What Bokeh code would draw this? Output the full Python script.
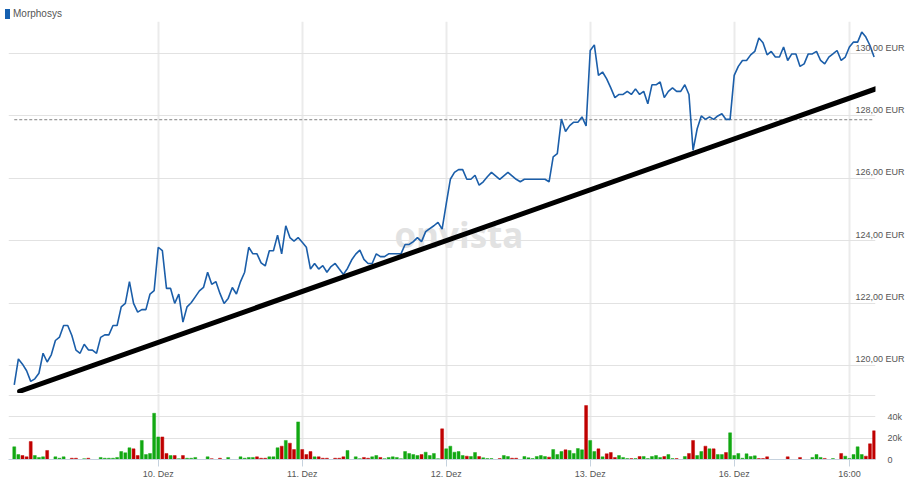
from bokeh.plotting import figure
from bokeh.models import (Range1d, LinearAxis, FixedTicker, Grid, Label, ColumnDataSource,
                          Div, Arrow)
from bokeh.layouts import column
from bokeh.embed import file_html
from bokeh.resources import INLINE

# ---------------- data ----------------
title_text = "Morphosys"

# price per 15-minute slot (EUR), slot index 0..209
price = [
    119.38, 120.21, 120.04, 119.83, 119.49, 119.57, 119.75, 120.39, 120.11, 120.34,
    120.80, 120.91, 121.28, 121.28, 120.96, 120.49, 120.39, 120.68, 120.50, 120.49,
    120.39, 120.90, 120.98, 120.98, 121.28, 121.28, 121.88, 121.99, 122.69, 121.99,
    121.71, 121.79, 121.79, 122.29, 122.40, 123.79, 123.68, 122.47, 122.47, 121.99,
    122.29, 121.39, 121.88, 122.01, 122.20, 122.39, 122.50, 122.99, 122.60, 122.69,
    122.31, 121.99, 122.15, 122.50, 122.29, 122.69, 122.99, 123.79, 123.58, 123.58,
    123.29, 123.19, 123.68, 123.68, 124.18, 123.58, 124.48, 124.10, 123.99, 124.10,
    123.95, 123.79, 123.09, 123.27, 123.09, 123.20, 122.99, 123.17, 123.27, 123.09,
    122.92, 123.11, 123.38, 123.57, 123.70, 123.40, 123.27, 123.27, 123.58, 123.49,
    123.49, 123.58, 123.58, 123.58, 123.58, 123.88, 123.88, 123.97, 124.10, 123.97,
    124.29, 124.39, 124.48, 124.59, 124.37, 125.18, 125.97, 126.19, 126.28, 126.28,
    125.97, 125.97, 126.10, 125.78, 125.89, 126.05, 126.19, 126.08, 125.97, 126.08,
    126.19, 126.08, 125.97, 125.89, 125.97, 125.97, 125.97, 125.97, 125.97, 125.97,
    125.89, 126.69, 126.79, 127.90, 127.50, 127.69, 127.80, 127.80, 127.97, 127.68,
    130.10, 130.28, 129.30, 129.41, 129.19, 128.90, 128.59, 128.69, 128.69, 128.79,
    128.69, 128.87, 128.69, 128.79, 128.39, 129.00, 129.00, 129.09, 128.59, 128.79,
    128.90, 128.79, 128.79, 129.00, 128.69, 126.90, 127.59, 128.00, 127.89, 127.97,
    127.89, 128.00, 128.07, 127.89, 127.89, 129.30, 129.59, 129.78, 129.78, 129.96,
    130.07, 130.50, 130.35, 129.96, 130.07, 129.89, 129.89, 130.21, 129.78, 129.99,
    129.99, 129.59, 129.67, 129.99, 129.99, 130.07, 129.78, 129.67, 129.89, 129.99,
    130.10, 129.78, 129.89, 130.21, 130.37, 130.37, 130.69, 130.53, 130.26, 129.89,
]

# traded volume per slot, in thousands of shares
volume_k = [
    11.8, 4.6, 3.7, 2.5, 16.7, 3.7, 1.9, 2.5, 8.4, 0,
    2.5, 1.2, 2.5, 0, 1.2, 1.2, 0, 0.8, 1.2, 0,
    0, 1.9, 1.2, 1.2, 1.2, 1.9, 7.4, 6.2, 10.9, 9.9,
    3.7, 17.7, 4.6, 5.6, 43.0, 21.0, 21.0, 5.6, 3.7, 3.7,
    0.8, 3.7, 1.2, 1.2, 1.9, 0, 0, 2.5, 0.8, 0,
    1.2, 0, 1.9, 0, 0, 2.5, 1.2, 1.9, 1.9, 2.5,
    1.2, 1.2, 2.5, 2.5, 10.9, 12.4, 17.7, 15.2, 9.3, 35.0,
    9.3, 4.6, 7.4, 2.5, 2.5, 1.2, 1.2, 0, 1.2, 1.2,
    2.5, 8.4, 0, 2.5, 0.8, 1.9, 1.2, 2.5, 3.7, 1.9,
    0.8, 1.9, 2.5, 1.9, 0.8, 7.4, 5.6, 4.6, 3.7, 4.6,
    6.8, 3.7, 5.6, 0.8, 28.5, 9.9, 12.4, 6.8, 7.4, 3.7,
    3.1, 2.8, 6.5, 2.8, 1.6, 0.9, 0.9, 0, 0.9, 3.7,
    2.8, 1.2, 1.2, 0, 2.8, 1.6, 0.9, 2.8, 3.7, 2.8,
    2.2, 9.3, 4.6, 7.4, 9.0, 8.4, 5.6, 10.2, 9.0, 50.2,
    17.7, 7.4, 9.9, 2.5, 5.3, 6.5, 1.9, 3.7, 1.9, 0.9,
    0.9, 0.9, 2.8, 2.8, 0.9, 2.8, 3.7, 1.9, 2.8, 4.6,
    0.9, 0.9, 0, 2.8, 5.6, 17.7, 3.7, 7.4, 12.4, 9.9,
    9.9, 4.6, 4.6, 6.5, 24.8, 3.7, 5.6, 1.2, 5.3, 2.8,
    3.4, 0.9, 0.9, 2.5, 0, 0, 0, 0, 2.5, 0,
    0, 1.9, 0, 0, 1.9, 4.6, 1.9, 1.0, 0, 0.9,
    0, 5.6, 3.1, 1.0, 4.6, 11.8, 4.6, 3.1, 14.6, 26.7,
]

# direction of each volume bar: G = up slot, R = down slot
vol_dir = list(
    "GGRRRGGGRG" "GGGGRRGGRG" "GGGGGGGGGR" "RGGGGGRRGR" "GRGGGGGGRG"
    "RGGGGGGGGR" "RRGGGRGRRG" "RRRGRRRGRR" "RGGGGRRGGR" "GGGGGGGGGR"
    "GGGGRGGGGG" "RGGRGGGGRG" "GRRGGGGGGG" "RGGGRGGGGR" "GGRGRRRGGG"
    "RGRGGGGGRG" "GRGGRRGGRG" "RGGRGGGGGG" "GRRRGGGGRG" "GRGGGGGRGG"
    "GRGGGGGRRR"
)

day_ticks = [35, 70, 105, 140, 175, 203]
day_labels = ["10. Dez", "11. Dez", "12. Dez", "13. Dez", "16. Dez", "16:00"]

price_ticks = [120, 122, 124, 126, 128, 130]
price_labels = ["120,00 EUR", "122,00 EUR", "124,00 EUR", "126,00 EUR", "128,00 EUR", "130,00 EUR"]

vol_ticks = [0, 20000, 40000]
vol_labels = ["0", "20k", "40k"]
vol_grid_ticks = [20000, 40000, 60000]

ref_price = 127.88            # dashed reference level
trend_x = [1.3, 213.7]        # hand-drawn trend line (slot index)
trend_y = [119.17, 129.07]    # (EUR)

price_range = (119.10, 131.03)
vol_range = (0, 61400)

# ---------------- layout constants ----------------
W = 908
SLOT = 4.114          # px per slot
LB = 8                # left border
FRAME_W = 867
RB = W - LB - FRAME_W
x_start = -1.40
x_end = x_start + FRAME_W / SLOT
LBL_SHIFT = 6 / 31.2

FONT = "Liberation Sans"
TXT = "#555555"
UP = "#12a812"
DOWN = "#c00000"

idx = list(range(len(price)))
vol = [v * 1000 for v in volume_k]
vol_colors = [UP if d == "G" else DOWN for d in vol_dir]

# ---------------- header ----------------
header = Div(
    text=('<div style="position:relative;top:2px;display:flex;align-items:center;height:12px;'
          'font-family:\'Liberation Sans\',Arial,sans-serif;font-size:10px;color:#555;">'
          '<span style="display:inline-block;width:5px;height:10px;background:#1560b0;'
          'margin-right:3px;"></span>' + title_text + '</div>'),
    width=W, height=11,
)

# ---------------- price panel ----------------
p = figure(width=W, height=372, title=None,
           x_range=Range1d(x_start, x_end), y_range=Range1d(*price_range),
           x_axis_location=None, y_axis_location=None,
           toolbar_location=None, output_backend="svg",
           min_border_left=LB, min_border_right=RB,
           min_border_top=0, min_border_bottom=0, outline_line_color=None)
p.grid.visible = False
p.add_layout(Grid(dimension=0, ticker=FixedTicker(ticks=day_ticks),
                  grid_line_color="#ebebeb", grid_line_width=2))
p.add_layout(Grid(dimension=1, ticker=FixedTicker(ticks=price_ticks),
                  grid_line_color="#e2e2e2", grid_line_width=1))

p.extra_y_ranges = {"lbl": Range1d(price_range[0] - LBL_SHIFT, price_range[1] - LBL_SHIFT)}
pax = LinearAxis(y_range_name="lbl", ticker=FixedTicker(ticks=price_ticks),
                 major_label_overrides=dict(zip(price_ticks, price_labels)),
                 axis_line_color=None, major_tick_line_color=None, minor_tick_line_color=None,
                 major_tick_out=0, major_tick_in=0, major_label_standoff=-20,
                 major_label_text_font=FONT, major_label_text_font_size="9px",
                 major_label_text_color=TXT)
p.add_layout(pax, "right")

p.add_layout(Label(x=92.4, y=123.43, text="onvista", text_font="Open Sans",
                   text_font_style="bold", text_font_size="35px",
                   text_color="#e2e2e2", level="underlay"))

p.segment(x0=[idx[0]], y0=[ref_price], x1=[idx[-1]], y1=[ref_price],
          line_color="#808080", line_width=1, line_dash="3 2")
p.line(idx, price, line_color="#1b5ea9", line_width=1.6)
p.add_layout(Arrow(x_start=trend_x[0], y_start=trend_y[0], x_end=trend_x[1], y_end=trend_y[1],
                   start=None, end=None, line_color="black", line_width=5, line_cap="round"))

# ---------------- volume panel ----------------
v = figure(width=W, height=89, title=None,
           x_range=Range1d(x_start, x_end), y_range=Range1d(*vol_range),
           x_axis_location="below", y_axis_location=None,
           toolbar_location=None, output_backend="svg",
           min_border_left=LB, min_border_right=RB,
           min_border_top=0, min_border_bottom=23, outline_line_color=None)
v.grid.visible = False
v.add_layout(Grid(dimension=0, ticker=FixedTicker(ticks=day_ticks),
                  grid_line_color="#ebebeb", grid_line_width=2))
v.add_layout(Grid(dimension=1, ticker=FixedTicker(ticks=vol_grid_ticks),
                  grid_line_color="#e2e2e2", grid_line_width=1))

xa = v.xaxis[0]
xa.ticker = FixedTicker(ticks=day_ticks)
xa.major_label_overrides = dict(zip(day_ticks, day_labels))
xa.axis_line_color = "#c6d2de"
xa.major_tick_line_color = "#c6d2de"
xa.major_tick_out = 7
xa.major_tick_in = 0
xa.minor_tick_line_color = None
xa.major_label_standoff = 2
xa.major_label_text_font = FONT
xa.major_label_text_font_size = "9px"
xa.major_label_text_color = TXT

vax = LinearAxis(ticker=FixedTicker(ticks=vol_ticks),
                 major_label_overrides=dict(zip(vol_ticks, vol_labels)),
                 axis_line_color=None, major_tick_line_color=None, minor_tick_line_color=None,
                 major_tick_out=0, major_tick_in=0, major_label_standoff=12,
                 major_label_text_font=FONT, major_label_text_font_size="9px",
                 major_label_text_color=TXT)
v.add_layout(vax, "right")

src = ColumnDataSource(dict(x=idx, top=vol, color=vol_colors))
v.vbar(x="x", top="top", width=0.72, fill_color="color", line_color="color",
       line_alpha=0.45, source=src)

layout = column(header, p, v, spacing=0)
open("out.html", "w").write(file_html(layout, INLINE))
